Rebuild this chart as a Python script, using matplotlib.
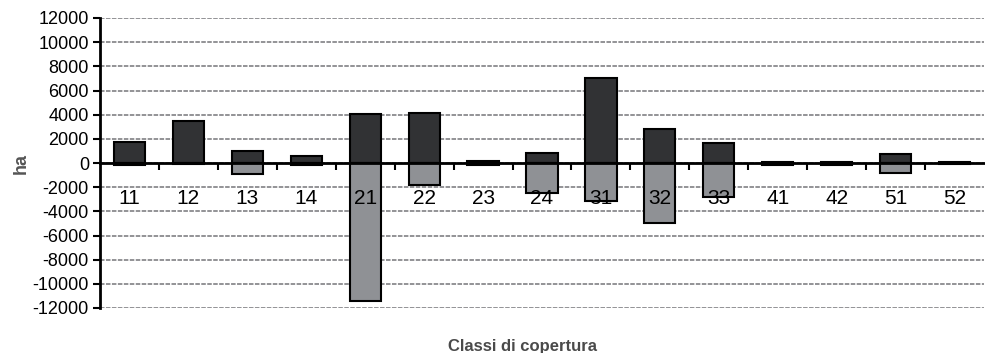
import matplotlib
matplotlib.use("Agg")
import matplotlib.pyplot as plt
import matplotlib.transforms as mtransforms
import numpy as np

categories = ["11", "12", "13", "14", "21", "22", "23", "24", "31", "32", "33", "41", "42", "51", "52"]
gains = [1700, 3500, 1000, 600, 4050, 4150, 150, 850, 7000, 2800, 1650, 60, 60, 750, 60]
losses = [-200, -100, -900, -200, -11450, -1850, -200, -2450, -3150, -4950, -2800, -150, -200, -800, -100]
yticks = list(range(-12000, 12001, 2000))

plt.rcParams['font.family'] = ['Liberation Sans', 'DejaVu Sans']

fig = plt.figure(figsize=(9.85, 3.53), dpi=100)
ax = fig.add_axes([100/985, 45/353, 884/985, 290/353])

x = np.arange(len(categories))
w = 0.53
ax.bar(x, gains, width=w, color="#313234", edgecolor="black", linewidth=1.5, zorder=3)
ax.bar(x, losses, width=w, color="#8f9195", edgecolor="black", linewidth=1.5, zorder=3)

ax.set_xlim(-0.5, len(categories) - 0.5)
ax.set_ylim(-12000, 12000)
ax.set_yticks(yticks)
ax.set_yticklabels([str(v) for v in yticks], fontsize=13)
ax.yaxis.grid(True, color="#8a8a8e", linestyle=(0, (2.5, 0.8)), linewidth=1.3, zorder=0)

for s in ["top", "right"]:
    ax.spines[s].set_visible(False)
ax.spines["left"].set_linewidth(2)
ax.spines["bottom"].set_position(("data", 0))
ax.spines["bottom"].set_linewidth(2)
ax.spines["bottom"].set_zorder(4)

ax.set_xticks(x[:-1] + 0.5)
ax.set_xticklabels([])
ax.tick_params(axis="x", which="major", direction="out", length=5, width=1.5)
ax.tick_params(axis="y", direction="out", length=5, width=1.5, pad=3)

trans = mtransforms.blended_transform_factory(ax.transData, ax.transAxes)
for xi, lab in zip(x, categories):
    ax.text(xi, 0.379, lab, transform=trans, ha="center", va="center",
            fontsize=15, color="black", zorder=6)

ax.set_ylabel("ha", fontsize=13, fontweight="bold", color="#555555", labelpad=2)
fig.text(0.5 + 30/985, 6/353, "Classi di copertura", fontsize=12, fontweight="bold",
         color="#4a4a4a", ha="center", va="center")

fig.savefig("out.png", dpi=100)
